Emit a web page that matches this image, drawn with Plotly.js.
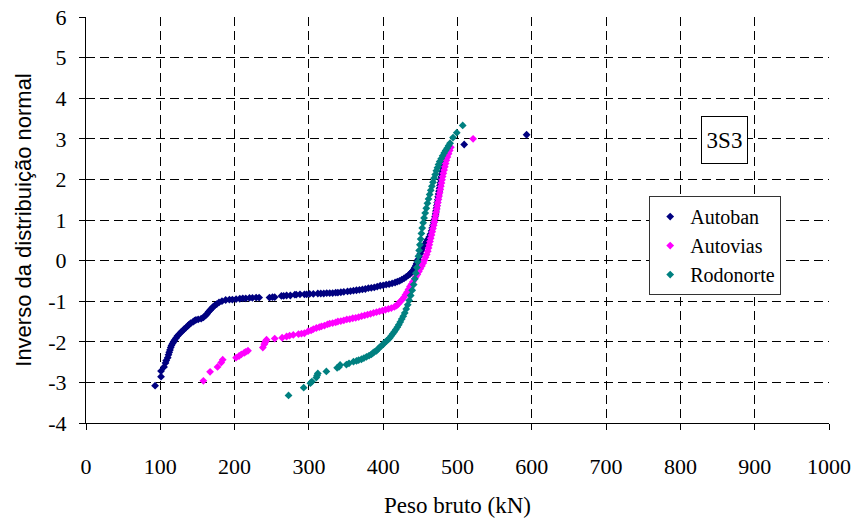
<!DOCTYPE html>
<html>
<head>
<meta charset="utf-8">
<script src="https://cdn.plot.ly/plotly-3.0.1.min.js"></script>
<style>html,body{margin:0;padding:0;background:#fff;}#chart{width:861px;height:524px;}</style>
</head>
<body>
<div id="chart"></div>
<script>
// Series names
const seriesNames = ["Autoban", "Autovias", "Rodonorte"];

// Autoban: peso bruto (kN) and inverse normal values
const autobanX = [93,101,101,105,107,108,110,111,112,113,114,115,116.5,118,119,121,123,125,127.5,130,132,134.5,137,139,141,144,146,148,151,155,158,161,163,165,167,169,171,173,176,179,183,188,193,197,202,207,211,215,220,224,229,233,
247,251,254,263,266,270,275,281,283,288,294,297,301,306,312,316,320,324,328,332,336,339,343,347,352,356,360,364,368,372,376,380,384,388,392,396,400,404,408,412,416,419,422,425,428,431,434,436,438,440,441.5,442.6,444,445,446,447,448.5,450,452,454,456,458,460,462,463.5,465,466,467,468,469,469.8,470.5,471,471.6,472.2,472.8,473.4,474,474.6,475.2,475.8,476.4,477,477.6,478.2,478.8,479.4,480,481,482,483,484,485.5,509,593];
const autobanY = [-3.08,-2.86,-2.72,-2.62,-2.52,-2.46,-2.39,-2.32,-2.26,-2.20,-2.14,-2.09,-2.04,-2.00,-1.96,-1.91,-1.86,-1.82,-1.77,-1.73,-1.69,-1.65,-1.61,-1.57,-1.54,-1.51,-1.48,-1.46,-1.45,-1.43,-1.40,-1.35,-1.31,-1.26,-1.22,-1.18,-1.14,-1.11,-1.07,-1.03,-1.00,-0.97,-0.96,-0.96,-0.95,-0.94,-0.93,-0.93,-0.92,-0.92,-0.91,-0.91,
-0.91,-0.90,-0.90,-0.87,-0.87,-0.86,-0.86,-0.84,-0.84,-0.83,-0.83,-0.83,-0.82,-0.82,-0.81,-0.81,-0.81,-0.80,-0.80,-0.80,-0.79,-0.79,-0.78,-0.77,-0.76,-0.75,-0.74,-0.73,-0.72,-0.71,-0.70,-0.68,-0.67,-0.66,-0.64,-0.62,-0.61,-0.59,-0.58,-0.56,-0.54,-0.52,-0.50,-0.47,-0.44,-0.40,-0.36,-0.33,-0.29,-0.25,-0.21,-0.17,-0.12,-0.07,-0.02,0.03,0.10,0.17,0.25,0.33,0.40,0.46,0.52,0.58,0.65,0.73,0.80,0.87,0.94,1.01,1.08,1.15,1.22,1.29,1.36,1.43,1.50,1.57,1.64,1.71,1.78,1.85,1.92,1.99,2.06,2.13,2.20,2.27,2.34,2.41,2.48,2.55,2.62,2.86,3.10];

// Autovias
const autoviasX = [158,167,177,182,184,202,206,209,213,215,218,238,240,241,242,243,254,264,270,274,279,286,290,294,299,303,306,310,314,317,321,325,328,332,336,339,343,347,351,355,359,363,367,371,375,379,383,387,391,395,399,403,407,411,415,418,420,422,424,426,428,430,432,434,436,438,440,442,444,446,448,450,452,454,455.5,457,458.5,460,461,462,463,464,465,466,467,468,468.8,469.6,470.4,471.2,472,472.8,473.6,474.4,475.2,476,476.8,477.6,478.4,479.2,480,481,482,483,484,485,486.5,488,489.5,491,521];
const autoviasY = [-2.96,-2.74,-2.62,-2.51,-2.44,-2.39,-2.35,-2.31,-2.27,-2.25,-2.22,-2.14,-2.06,-2.02,-1.98,-1.95,-1.92,-1.90,-1.87,-1.85,-1.83,-1.81,-1.80,-1.79,-1.74,-1.72,-1.69,-1.66,-1.64,-1.62,-1.60,-1.57,-1.55,-1.54,-1.52,-1.50,-1.49,-1.47,-1.45,-1.44,-1.42,-1.41,-1.39,-1.37,-1.35,-1.33,-1.31,-1.29,-1.27,-1.25,-1.23,-1.21,-1.19,-1.17,-1.14,-1.11,-1.07,-1.03,-0.99,-0.95,-0.90,-0.84,-0.78,-0.71,-0.64,-0.58,-0.52,-0.46,-0.40,-0.34,-0.27,-0.20,-0.13,-0.06,0.01,0.08,0.15,0.23,0.31,0.39,0.47,0.55,0.63,0.71,0.79,0.87,0.95,1.03,1.11,1.19,1.27,1.35,1.43,1.51,1.59,1.67,1.75,1.83,1.91,1.99,2.07,2.15,2.23,2.31,2.39,2.47,2.55,2.63,2.71,2.79,3.00];

// Rodonorte
const rodonorteX = [272.6,293,302,304,310,311,312,323.5,338,340.5,342,350.5,354,360,364,367,370.7,374,377.5,381,384,386,388,391,393,395,397.7,400,402,404.5,407,409,411,413,415,417,419,421,423,425,427,429,431,433,435,437,439,441,442.6,444,445.3,446.4,447.4,448.4,449.4,450.4,451.4,452.5,453.8,455,456.5,458,459.5,461,462.5,464,465.5,467,468.5,470,471.5,473,474.5,476,478,480,482,484,486,488,490,494,499,507];
const rodonorteY = [-3.32,-3.13,-3.02,-2.98,-2.88,-2.83,-2.78,-2.73,-2.64,-2.62,-2.57,-2.56,-2.53,-2.49,-2.47,-2.45,-2.43,-2.40,-2.37,-2.34,-2.31,-2.28,-2.25,-2.22,-2.18,-2.14,-2.10,-2.06,-2.02,-1.98,-1.94,-1.90,-1.85,-1.80,-1.75,-1.70,-1.64,-1.58,-1.51,-1.44,-1.37,-1.29,-1.19,-1.09,-0.98,-0.86,-0.73,-0.59,-0.45,-0.31,-0.17,-0.03,0.11,0.25,0.39,0.53,0.67,0.80,0.93,1.05,1.17,1.29,1.41,1.52,1.63,1.73,1.83,1.93,2.03,2.12,2.21,2.29,2.37,2.44,2.51,2.58,2.65,2.71,2.77,2.83,2.89,3.03,3.15,3.33];

const seriesColors = ["#000080", "#FF00FF", "#008080"];

const xTickVals = [0,100,200,300,400,500,600,700,800,900,1000];
const yTickVals = [-4,-3,-2,-1,0,1,2,3,4,5,6];

const xs = [autobanX, autoviasX, rodonorteX];
const ys = [autobanY, autoviasY, rodonorteY];

const traces = seriesNames.map((name, i) => ({
  type: "scatter",
  mode: "markers",
  name: name,
  x: xs[i],
  y: ys[i],
  marker: {color: seriesColors[i], size: 6, symbol: "diamond"}
}));

const serif = '"Liberation Serif", "Times New Roman", serif';
const sans = '"Liberation Sans", Arial, sans-serif';

const layout = {
  width: 861, height: 524,
  margin: {l: 86, r: 32, t: 17, b: 101},
  paper_bgcolor: "#fff", plot_bgcolor: "#fff",
  showlegend: true,
  font: {family: serif, size: 22, color: "#000"},
  xaxis: {
    range: [0, 1000], tickvals: xTickVals, ticktext: xTickVals.map(String),
    showgrid: true, gridcolor: "#000", gridwidth: 1, griddash: "9px,5px",
    zeroline: false, showline: true, linecolor: "#000", linewidth: 1,
    ticks: "outside", ticklen: 6, tickcolor: "#000", ticklabelstandoff: 18,
    tickfont: {family: serif, size: 22, color: "#000"},
    title: {text: "Peso bruto (kN)", font: {family: serif, size: 23, color: "#000"}, standoff: 18},
    fixedrange: true
  },
  yaxis: {
    range: [-4, 6], tickvals: yTickVals, ticktext: yTickVals.map(String),
    showgrid: true, gridcolor: "#000", gridwidth: 1, griddash: "9px,5px",
    zeroline: false, showline: true, linecolor: "#000", linewidth: 1,
    ticks: "outside", ticklen: 6, tickcolor: "#000", ticklabelstandoff: 8,
    tickfont: {family: serif, size: 22, color: "#000"},
    title: {text: "Inverso da distribuição normal", font: {family: sans, size: 22, color: "#000"}, standoff: 10},
    fixedrange: true
  },
  legend: {
    x: 0.758, y: 0.559, xanchor: "left", yanchor: "top",
    bgcolor: "#fff", bordercolor: "#333", borderwidth: 1,
    font: {family: serif, size: 20, color: "#000"},
    itemclick: false
  },
  annotations: [{
    xref: "paper", yref: "paper", x: 0.8587, y: 0.697,
    xanchor: "center", yanchor: "middle", showarrow: false,
    text: "3S3", font: {family: serif, size: 23, color: "#000"},
    bgcolor: "#fff", bordercolor: "#000", borderwidth: 1, borderpad: 4,
    width: 37, height: 38
  }]
};

Plotly.newPlot("chart", traces, layout, {displayModeBar: false, staticPlot: true});
</script>
</body>
</html>
